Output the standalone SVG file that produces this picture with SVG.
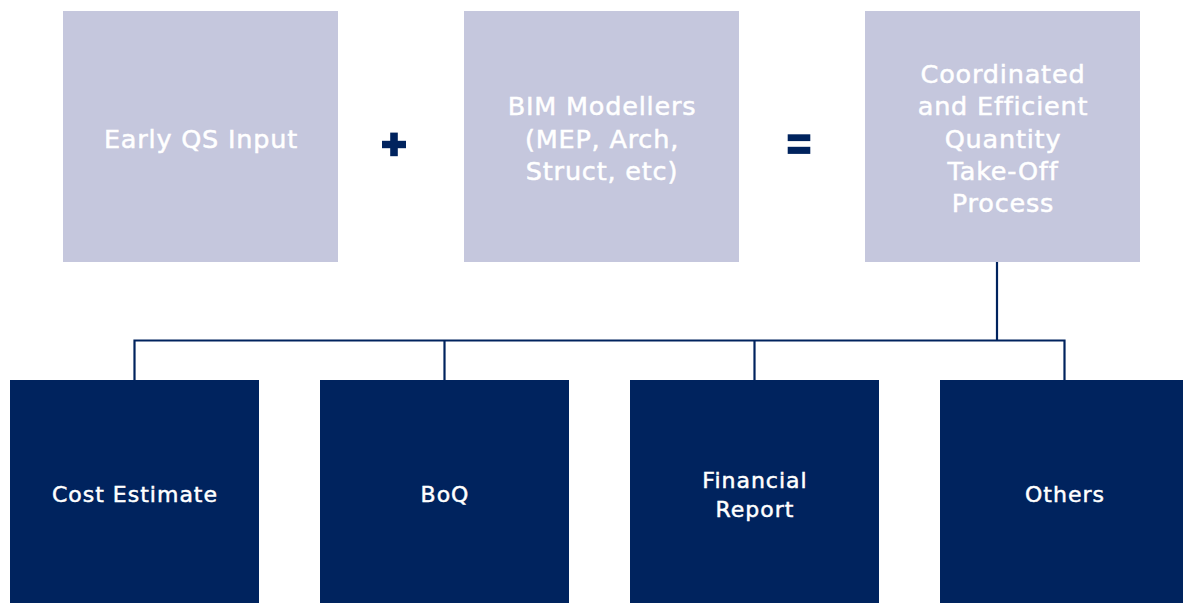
<svg xmlns="http://www.w3.org/2000/svg" width="1183" height="603" viewBox="0 0 1183 603">
<style>
.top{fill:#C5C7DD}
.bot{fill:#00235E}
.tt{fill:#FFFFFF;stroke:#FFFFFF;stroke-width:0.5px;font-family:"DejaVu Sans","Liberation Sans",sans-serif;font-size:25.5px;letter-spacing:0.8px;text-anchor:middle}
.bt{fill:#FFFFFF;stroke:#FFFFFF;stroke-width:0.5px;font-family:"DejaVu Sans","Liberation Sans",sans-serif;font-size:22px;letter-spacing:1px;text-anchor:middle}
.op{fill:#00235E}
.conn{stroke:#00235E;stroke-width:2.2;fill:none}
</style>
<rect width="1183" height="603" fill="#FFFFFF"/>
<g id="connectors">
<path class="conn" d="M997 262 V340.5"/>
<path class="conn" d="M134.5 380 V340.5 H1064.5 V380"/>
<path class="conn" d="M444.5 340.5 V380"/>
<path class="conn" d="M754.5 340.5 V380"/>
</g>
<g id="node-early-qs">
<rect class="top" x="63" y="11" width="275" height="251"/>
<text class="tt" x="201" y="148">Early QS Input</text>
</g>
<g id="op-plus">
<rect class="op" x="382" y="140.8" width="24" height="7.4"/>
<rect class="op" x="390.2" y="132.6" width="7.6" height="23.6"/>
</g>
<g id="node-bim">
<rect class="top" x="464" y="11" width="275" height="251"/>
<text class="tt" x="602" y="115">BIM Modellers</text>
<text class="tt" x="602" y="147.5">(MEP, Arch,</text>
<text class="tt" x="602" y="180">Struct, etc)</text>
</g>
<g id="op-equals">
<rect class="op" x="787.7" y="134.3" width="22.6" height="6.8"/>
<rect class="op" x="787.7" y="146.8" width="22.6" height="7.1"/>
</g>
<g id="node-coordinated">
<rect class="top" x="865" y="11" width="275" height="251"/>
<text class="tt" x="1003" y="83">Coordinated</text>
<text class="tt" x="1003" y="115">and Efficient</text>
<text class="tt" x="1003" y="147.5">Quantity</text>
<text class="tt" x="1003" y="179.5">Take-Off</text>
<text class="tt" x="1003" y="212">Process</text>
</g>
<g id="node-cost">
<rect class="bot" x="10" y="380" width="249" height="223"/>
<text class="bt" x="135" y="502">Cost Estimate</text>
</g>
<g id="node-boq">
<rect class="bot" x="320" y="380" width="249" height="223"/>
<text class="bt" x="445" y="502">BoQ</text>
</g>
<g id="node-financial">
<rect class="bot" x="630" y="380" width="249" height="223"/>
<text class="bt" x="755" y="488">Financial</text>
<text class="bt" x="755" y="517">Report</text>
</g>
<g id="node-others">
<rect class="bot" x="940" y="380" width="249" height="223"/>
<text class="bt" x="1065" y="502">Others</text>
</g>
</svg>
